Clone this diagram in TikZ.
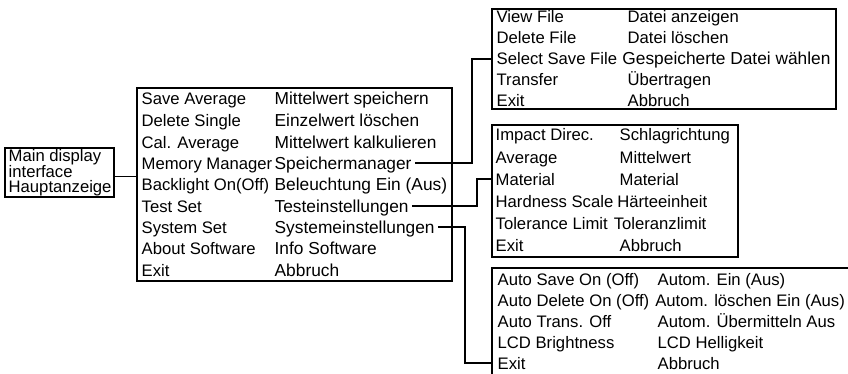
\documentclass[tikz,border=0pt]{standalone}
\usepackage{fontspec}
\setmainfont{Liberation Sans}
\usetikzlibrary{positioning,fit}
\begin{document}
\begin{tikzpicture}[x=0.75pt, y=-0.75pt, line width=1pt,
  box/.style={draw, inner sep=0pt},
  item/.style={anchor=west, inner sep=0pt, text height=9pt, text depth=0pt, font=\fontsize{12.5}{14}\selectfont},
  wide/.style={item, font=\fontsize{13}{14}\selectfont}]
\useasboundingbox (0,0) rectangle (848,374);

\node[box, fit={(5,148) (114,197)}] (hmi) {};
\node[anchor=west, align=left, inner sep=0pt, font=\fontsize{12.5}{11}\selectfont] (hmitxt) at (8,172.5) {Main display\\interface\\Hauptanzeige};

\node[box, fit={(137,88) (452,281)}] (menu) {};
\node[item] (sa) at (141,99) {Save Average};
\node[wide] (sade) at (274,99) {Mittelwert speichern};
\node[item] (ds) at (141,120.5) {Delete Single};
\node[wide] (dsde) at (274,120.5) {Einzelwert löschen};
\node[item] (ca) at (141,142) {Cal. Average};
\node[wide] (cade) at (274,142) {Mittelwert kalkulieren};
\node[item] (mm) at (141,163) {Memory Manager};
\node[wide] (mmde) at (274,163) {Speichermanager};
\node[item] (bl) at (141,184.5) {Backlight On(Off)};
\node[wide] (blde) at (274,184.5) {Beleuchtung Ein (Aus)};
\node[item] (ts) at (141,206) {Test Set};
\node[wide] (tsde) at (274,206) {Testeinstellungen};
\node[item] (ss) at (141,227) {System Set};
\node[wide] (ssde) at (274,227) {Systemeinstellungen};
\node[item] (ab) at (141,248.5) {About Software};
\node[wide] (abde) at (274,248.5) {Info Software};
\node[item] (ex) at (141,270) {Exit};
\node[wide] (exde) at (274,270) {Abbruch};

\node[box, fit={(492,9) (836,109)}] (files) {};
\node[item] (vf) at (496,17) {View File};
\node[item] (vfde) at (627,17) {Datei anzeigen};
\node[item] (df) at (496,38) {Delete File};
\node[item] (dfde) at (627,38) {Datei löschen};
\node[item] (ssf) at (496,59) {Select Save File};
\node[wide, right=3pt of ssf] (ssfde) {Gespeicherte Datei wählen};
\node[item] (tr) at (496,80) {Transfer};
\node[item] (trde) at (627,80) {Übertragen};
\node[item] (fex) at (496,101) {Exit};
\node[item] (fexde) at (627,101) {Abbruch};

\node[box, fit={(492,125) (738,257)}] (impact) {};
\node[item] (id) at (495,135) {Impact Direc.};
\node[item] (idde) at (619,135) {Schlagrichtung};
\node[item] (av) at (495,157) {Average};
\node[item] (avde) at (619,157) {Mittelwert};
\node[item] (mat) at (495,179) {Material};
\node[item] (matde) at (619,179) {Material};
\node[item] (hs) at (495,201) {Hardness Scale};
\node[item, right=2pt of hs] (hsde) {Härteeinheit};
\node[item] (tl) at (495,223) {Tolerance Limit};
\node[item, right=3.5pt of tl] (tlde) {Toleranzlimit};
\node[item] (iex) at (495,245) {Exit};
\node[item] (iexde) at (619,245) {Abbruch};

\node[box, fit={(492,268) (860,385)}] (autos) {};
\node[item] (as) at (497,279) {Auto Save On (Off)};
\node[item] (asde) at (657,279) {Autom. Ein (Aus)};
\node[item] (ad) at (497,300) {Auto Delete On (Off)};
\node[item, right=3.5pt of ad] (adde) {Autom. löschen Ein (Aus)};
\node[item] (at) at (497,321) {Auto Trans. Off};
\node[item] (atde) at (657,321) {Autom. Übermitteln Aus};
\node[item] (lcd) at (497,342) {LCD Brightness};
\node[item] (lcdde) at (657,342) {LCD Helligkeit};
\node[item] (aex) at (497,363) {Exit};
\node[item] (aexde) at (657,363) {Abbruch};

\coordinate (jm) at (472,0);
\coordinate (jt) at (477,0);
\coordinate (js) at (465,0);

\draw ([yshift=-3pt]hmi.east) -- ([yshift=-3pt]hmi.east -| menu.west);
\draw ([xshift=2pt]mmde.east) -| (jm |- ssf.west) -- (files.west |- ssf.west);
\draw ([xshift=2pt]tsde.east) -| (jt |- mat.west) -- (impact.west |- mat.west);
\draw ([xshift=2pt]ssde.east) -| (js |- aex.west) -- (autos.west |- aex.west);
\end{tikzpicture}
\end{document}
